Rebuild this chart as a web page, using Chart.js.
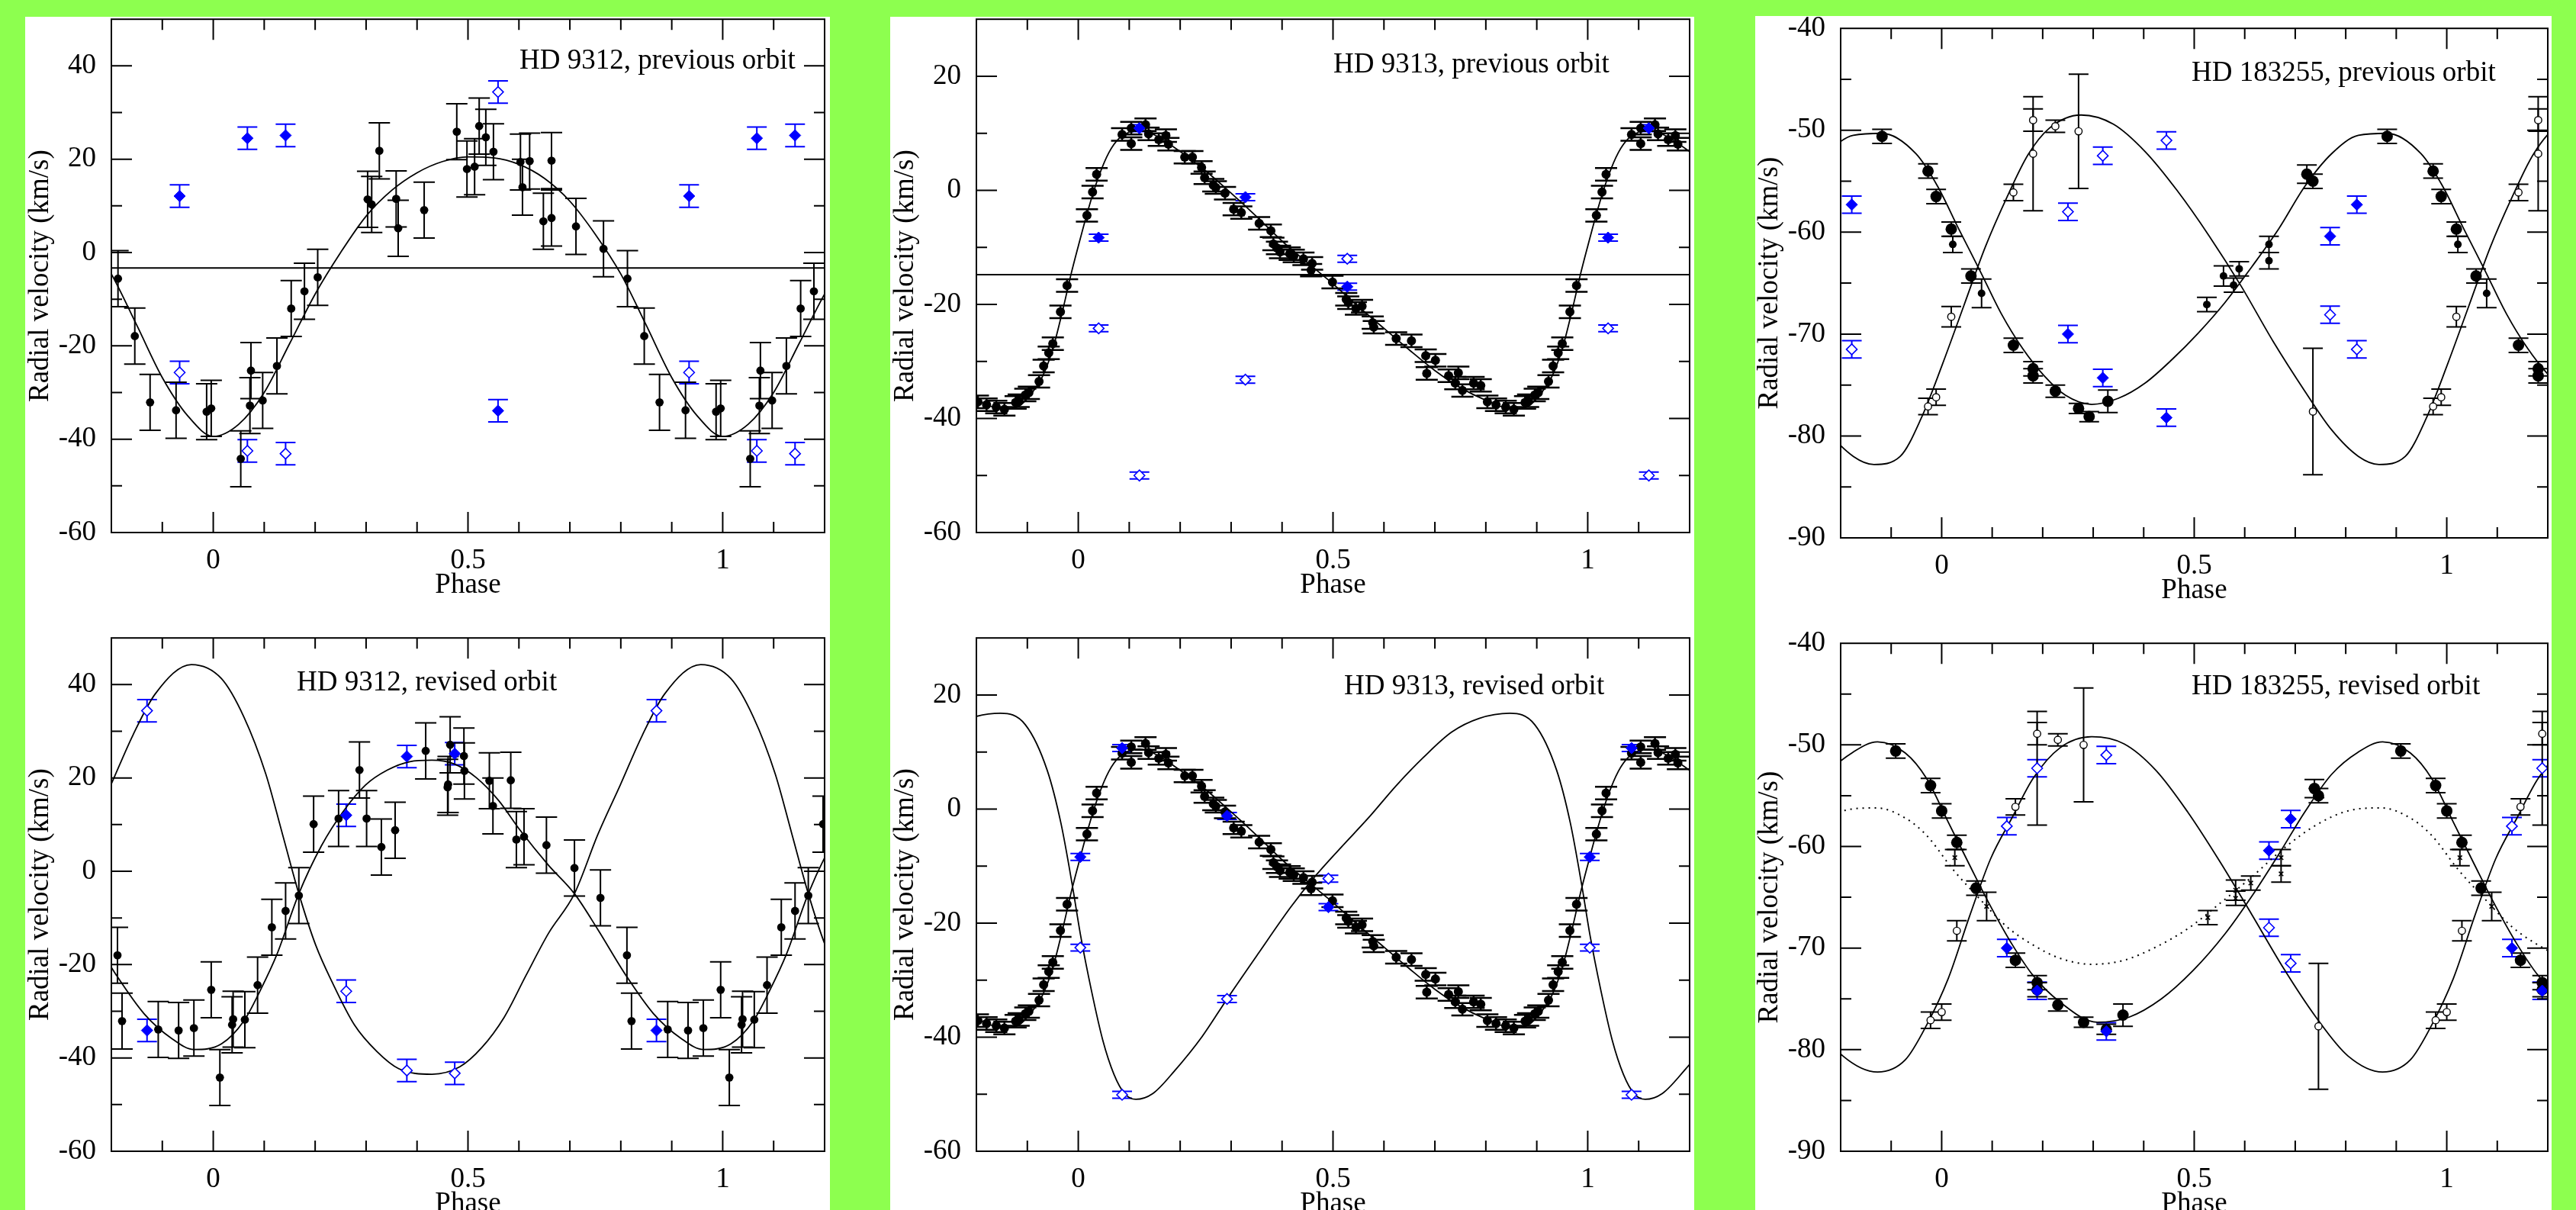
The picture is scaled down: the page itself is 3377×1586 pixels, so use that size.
<!DOCTYPE html>
<html>
<head>
<meta charset="utf-8">
<script src="https://cdn.jsdelivr.net/npm/chart.js@4.4.1/dist/chart.umd.min.js"></script>
<style>
  html, body { margin: 0; padding: 0; }
  body { width: 3377px; height: 1586px; background: #8dff4f; position: relative; overflow: hidden; }
  .sheet { position: absolute; background: #fff; }
  canvas { position: absolute; }
</style>
</head>
<body>
<div class="sheet" style="left:33px;top:22px;width:1055px;height:1564px"></div>
<div class="sheet" style="left:1167px;top:22px;width:1054px;height:1564px"></div>
<div class="sheet" style="left:2301px;top:21px;width:1044px;height:1565px"></div>
<script>
const FONT = '"Liberation Serif", "Times New Roman", serif';

// tick labels
const phaseLabels = [0, 0.5, 1];
const rvLabels9312 = [-60, -40, -20, 0, 20, 40];
const rvLabels9313 = [-60, -40, -20, 0, 20];
const rvLabels183255 = [-90, -80, -70, -60, -50, -40];

// ---------- HD 9312 : [phase, RV km/s] ----------
const hd9312PrevBlack = [[0.813,-5.6],[0.846,-17.9],[0.876,-32.1],[0.927,-33.8],[0.987,-34.1],[0.996,-33.4],
  [0.054,-44.2],[0.072,-32.8],[0.074,-25.3],[0.097,-31.7],[0.125,-24.3],[0.153,-12.0],[0.179,-8.3],[0.205,-5.3],
  [0.303,11.4],[0.311,10.3],[0.326,21.8],[0.359,11.5],[0.363,5.2],[0.414,9.1],[0.478,25.9],[0.498,17.9],
  [0.513,18.4],[0.522,27.1],[0.535,24.7],[0.550,21.6],[0.603,19.4],[0.607,14.0],[0.621,19.6],[0.648,6.7],
  [0.664,19.7],[0.664,7.4],[0.712,5.6],[0.766,0.8]];
const hd9312PrevBlueFilled = [[0.934,12.1],[0.067,24.5],[0.142,25.1],[0.559,-33.9]];
const hd9312PrevBlueOpen = [[0.934,-25.7],[0.067,-42.5],[0.142,-43.1],[0.559,34.4]];
const hd9312PrevCurve = [[0,-39.4],[0.05,-36.8],[0.1,-30],[0.15,-19.5],[0.2,-8.9],[0.25,0],[0.3,7.8],[0.35,13.3],
  [0.4,17.1],[0.45,19.5],[0.5,20.5],[0.55,20.3],[0.6,18.9],[0.65,15.9],[0.7,11.0],[0.75,3.9],[0.8,-4.6],
  [0.85,-15.6],[0.9,-26.8],[0.95,-35.0]];
const hd9312PrevGamma = -3.3;

const hd9312RevBlack = [[0.812,-18.0],[0.821,-32.1],[0.892,-33.9],[0.932,-34.1],[0.962,-33.6],[0.996,-25.4],
  [0.013,-44.2],[0.037,-32.9],[0.039,-31.7],[0.062,-31.8],[0.087,-24.4],[0.115,-12.0],[0.142,-8.5],[0.168,-5.2],
  [0.197,10.1],[0.246,11.3],[0.287,21.7],[0.301,11.3],[0.330,5.2],[0.357,8.8],[0.417,25.8],[0.460,18.0],
  [0.461,18.6],[0.465,27.1],[0.492,24.7],[0.493,21.5],[0.542,19.4],[0.549,14.0],[0.584,19.5],[0.595,6.8],
  [0.610,7.4],[0.654,5.6],[0.709,0.7],[0.760,-5.7]];
const hd9312RevBlueFilled = [[0.870,-34.1],[0.261,12.0],[0.380,24.6],[0.474,25.2]];
const hd9312RevBlueOpen = [[0.870,34.4],[0.261,-25.7],[0.380,-42.7],[0.474,-43.3]];
const hd9312RevCurveA = [[0.016,-37.0],[0.060,-32.1],[0.092,-25.6],[0.125,-17.8],[0.168,-4.8],[0.212,5.4],
  [0.255,12.8],[0.299,18.5],[0.342,21.7],[0.386,23.5],[0.429,23.8],[0.473,23.0],[0.516,20.1],[0.560,15.2],
  [0.603,8.7],[0.658,1.3],[0.709,-4.8],[0.755,-12.5],[0.810,-22.3],[0.864,-30.5],[0.918,-35.8],[0.962,-38.2]];
const hd9312RevCurveB = [[0.016,41.3],[0.060,33.1],[0.103,20.9],[0.136,7.9],[0.168,-4.8],[0.201,-15.8],
  [0.234,-23.9],[0.277,-32.9],[0.321,-38.6],[0.364,-42.3],[0.429,-43.5],[0.484,-41.9],[0.527,-37.8],
  [0.571,-31.3],[0.614,-22.3],[0.658,-13.3],[0.709,-4.8],[0.755,7.9],[0.799,18.5],[0.842,29.1],[0.886,38.0],
  [0.957,44.3]];

// ---------- HD 9313 ----------
const hd9313Black = [[0.017,-4.4],[0.028,-0.3],[0.036,2.8],[0.086,9.8],[0.104,8.2],[0.104,10.9],[0.132,11.5],
  [0.138,9.9],[0.158,8.9],[0.172,9.6],[0.177,8.1],[0.209,5.8],[0.224,5.8],[0.242,4.0],[0.248,2.2],[0.265,0.9],
  [0.270,0.5],[0.288,-0.5],[0.305,-3.3],[0.320,-3.9],[0.355,-5.8],[0.378,-7.1],[0.383,-9.4],[0.390,-10.1],
  [0.396,-10.8],[0.415,-11.1],[0.423,-11.5],[0.442,-12.0],[0.457,-14.0],[0.459,-12.8],[0.499,-16.1],
  [0.526,-19.1],[0.530,-19.7],[0.545,-20.7],[0.557,-20.3],[0.578,-23.2],[0.580,-24.0],[0.624,-26.0],
  [0.654,-26.4],[0.682,-29.0],[0.684,-32.1],[0.701,-29.8],[0.727,-32.5],[0.740,-33.8],[0.746,-32.0],
  [0.754,-35.1],[0.776,-33.8],[0.790,-34.2],[0.803,-37.1],[0.820,-37.6],[0.839,-38.0],[0.855,-38.4],
  [0.877,-37.2],[0.883,-36.9],[0.896,-35.9],[0.903,-35.5],[0.923,-33.5],[0.932,-30.8],[0.942,-28.5],
  [0.950,-26.9],[0.965,-21.3],[0.978,-16.7]];
const hd9313Curve = [[0.0,-9.8],[0.02,-3.2],[0.04,2.4],[0.06,6.6],[0.08,9.1],[0.1,10.2],[0.12,10.5],[0.15,9.7],
  [0.2,6.8],[0.25,3.4],[0.3,-0.5],[0.35,-4.6],[0.4,-8.9],[0.45,-12.7],[0.5,-16.4],[0.55,-20.4],[0.6,-24.2],
  [0.65,-28.0],[0.7,-31.6],[0.75,-34.6],[0.8,-36.8],[0.85,-38.3],[0.88,-38.0],[0.9,-36.5],[0.93,-32.6],
  [0.95,-27.8],[0.97,-20.8],[0.985,-15.0]];
const hd9313PrevBlueFilled = [[0.040,-8.3],[0.120,10.9],[0.328,-1.2],[0.528,-16.9]];
const hd9313PrevBlueOpen = [[0.040,-24.2],[0.120,-50.0],[0.328,-33.2],[0.528,-12.0]];
const hd9313PrevGamma = -14.8;
const hd9313RevBlueFilled = [[0.004,-8.4],[0.086,10.7],[0.292,-1.2],[0.491,-17.2]];
const hd9313RevBlueOpen = [[0.004,-24.3],[0.086,-50.1],[0.292,-33.3],[0.491,-12.2]];
const hd9313RevCurveB = [[0.004,-21.9],[0.026,-31.9],[0.048,-40.5],[0.070,-46.5],[0.091,-49.9],[0.113,-50.9],
  [0.146,-49.9],[0.189,-45.9],[0.243,-39.9],[0.292,-33.3],[0.352,-25.5],[0.417,-17.2],[0.461,-12.2],
  [0.515,-6.8],[0.570,-1.5],[0.624,4.1],[0.678,9.1],[0.733,13.5],[0.787,15.9],[0.847,16.8],[0.896,14.8],
  [0.939,6.8],[0.966,-2.5],[0.988,-13.2]];

// ---------- HD 183255 : [phase, RV, error] ----------
const hd183255PrevBig = [[0.882,-50.6,0.7],[0.973,-54.0,0.7],[0.989,-56.5,0.7],[0.019,-59.7,0.7],[0.058,-64.3,0.7],
  [0.142,-71.1,0.7],[0.181,-73.4,0.7],[0.181,-74.1,0.7],[0.225,-75.6,0.6],[0.271,-77.3,0.5],[0.292,-78.1,0.5],
  [0.329,-76.6,1.1],[0.723,-54.3,0.9],[0.735,-55.0,0.7]];
const hd183255PrevSmall = [[0.022,-61.2,0.8],[0.079,-66.0,1.4],[0.525,-67.1,0.7],[0.558,-64.3,1.0],
  [0.578,-65.2,0.7],[0.589,-63.6,0.7],[0.648,-61.2,0.8],[0.648,-62.8,0.8]];
const hd183255PrevOpen = [[0.973,-77.1,0.8],[0.989,-76.2,0.8],[0.019,-68.3,1.0],[0.142,-56.1,0.8],
  [0.181,-52.3,5.6],[0.181,-49.0,1.1],[0.225,-49.6,0.6],[0.271,-50.1,5.6],[0.735,-77.6,6.2]];
const hd183255PrevBlueFilled = [[0.822,-57.3],[0.250,-70.0],[0.319,-74.3],[0.445,-78.2],[0.769,-60.4]];
const hd183255PrevBlueOpen = [[0.822,-71.5],[0.250,-58.0],[0.319,-52.5],[0.445,-51.0],[0.769,-68.1]];
const hd183255PrevCurveA = [[0.034,-59.7],[0.076,-63.8],[0.118,-68.0],[0.160,-71.4],[0.203,-74.1],[0.245,-76.0],
  [0.297,-76.9],[0.350,-76.3],[0.403,-74.8],[0.456,-72.5],[0.508,-69.9],[0.561,-66.9],[0.614,-63.4],
  [0.667,-59.7],[0.719,-55.5],[0.772,-52.3],[0.825,-50.5],[0.882,-50.3],[0.949,-52.3],[0.992,-55.5]];
const hd183255PrevCurveB = [[0.002,-72.9],[0.044,-67.2],[0.086,-61.5],[0.129,-56.6],[0.171,-52.4],[0.213,-49.8],
  [0.276,-48.5],[0.340,-49.4],[0.403,-52.1],[0.466,-55.9],[0.530,-60.4],[0.593,-65.3],[0.656,-70.7],
  [0.719,-75.6],[0.772,-79.4],[0.825,-82.0],[0.866,-82.8],[0.918,-82.0],[0.960,-78.2]];

const hd183255RevBig = [[0.909,-50.6,0.7],[0.978,-54.0,0.7],[0.0,-56.5,0.7],[0.030,-59.6,0.7],[0.068,-64.1,0.7],
  [0.146,-71.2,0.7],[0.189,-73.4,0.7],[0.189,-74.1,0.7],[0.230,-75.6,0.6],[0.281,-77.3,0.5],[0.326,-78.0,0.5],
  [0.359,-76.6,1.1],[0.738,-54.3,0.9],[0.746,-55.0,0.7]];
const hd183255RevSmall = [[0.026,-61.1,0.8],[0.089,-65.9,1.4],[0.527,-67.0,0.7],[0.582,-64.3,1.0],
  [0.582,-65.1,0.7],[0.612,-63.6,0.7],[0.672,-61.1,0.8],[0.672,-62.7,0.8]];
const hd183255RevOpen = [[0.978,-77.1,0.8],[0.0,-76.3,0.8],[0.030,-68.3,1.0],[0.146,-56.1,0.8],
  [0.189,-52.3,5.6],[0.189,-48.9,1.1],[0.230,-49.5,0.6],[0.281,-50.0,5.6],[0.746,-77.7,6.2]];
const hd183255RevBlueFilled = [[0.129,-70.0],[0.189,-74.2],[0.326,-78.2],[0.648,-60.4],[0.691,-57.3]];
const hd183255RevBlueOpen = [[0.129,-58.0],[0.189,-52.3],[0.326,-51.0],[0.648,-68.0],[0.691,-71.5]];
const hd183255RevCurveA = [[0.013,-57.6],[0.055,-61.8],[0.097,-65.9],[0.139,-69.6],[0.181,-72.7],[0.234,-75.3],
  [0.308,-77.3],[0.371,-76.8],[0.435,-75.0],[0.498,-72.2],[0.561,-68.6],[0.614,-64.9],[0.667,-60.8],
  [0.719,-56.6],[0.772,-52.9],[0.825,-50.7],[0.873,-49.7],[0.928,-50.8],[0.970,-53.3]];
const hd183255RevCurveB = [[0.013,-73.0],[0.055,-66.9],[0.097,-61.2],[0.139,-57.2],[0.181,-53.3],[0.234,-50.3],
  [0.297,-49.2],[0.361,-49.9],[0.424,-52.5],[0.487,-56.6],[0.551,-61.5],[0.614,-66.7],[0.677,-72.0],
  [0.741,-76.8],[0.804,-80.6],[0.873,-82.2],[0.928,-81.0],[0.970,-77.6]];
const hd183255RevCurveC = [[0.023,-62.3],[0.076,-65.2],[0.129,-67.9],[0.181,-69.7],[0.234,-71.0],[0.297,-71.6],
  [0.361,-71.2],[0.424,-69.9],[0.487,-68.1],[0.551,-65.6],[0.614,-63.0],[0.677,-60.2],[0.741,-57.9],
  [0.804,-56.5],[0.870,-56.2],[0.928,-57.2],[0.970,-58.9]];

// repeat each phase one cycle either side, keep what falls in [lo, hi]
function wrap(rows, err, lo, hi) {
  const out = [];
  rows.forEach(r => {
    [-1, 0, 1].forEach(k => {
      const x = r[0] + k;
      if (x >= lo && x <= hi) out.push({ x: x, y: r[1], e: r.length > 2 ? r[2] : err });
    });
  });
  return out.sort((a, b) => a.x - b.x);
}

function points(rows, err, look) {
  return Object.assign({ data: wrap(rows, err, -0.2, 1.2), showLine: false, errColor: '#000', errWidth: 2 }, look);
}
function curve(rows, dash) {
  return { data: wrap(rows, 0, -0.6, 1.6), showLine: true, pointRadius: 0, borderColor: '#000',
    borderWidth: dash ? 2 : 1.8, borderDash: dash ? [2, 6] : [], cubicInterpolationMode: 'monotone' };
}
function flat(v) {
  return { data: [{ x: -0.2, y: v }, { x: 1.2, y: v }], showLine: true, pointRadius: 0, borderColor: '#000', borderWidth: 2 };
}

const blackDot = r => ({ pointStyle: 'circle', pointRadius: r, backgroundColor: '#000', borderColor: '#000', borderWidth: 0 });
const blueFill = { pointStyle: 'rectRot', pointRadius: 7.5, backgroundColor: '#0000ff', borderColor: '#0000ff', borderWidth: 1, errColor: '#0000ff' };
const blueOpen = { pointStyle: 'rectRot', pointRadius: 7, backgroundColor: '#fff', borderColor: '#0000ff', borderWidth: 1.6, errColor: '#0000ff' };
const blackOpen = { pointStyle: 'circle', pointRadius: 4.7, backgroundColor: '#fff', borderColor: '#000', borderWidth: 1.4 };
const blackCross = { pointStyle: 'crossRot', pointRadius: 4, borderColor: '#000', borderWidth: 1.6 };

const framePlugin = {
  id: 'frame',
  beforeDatasetsDraw(chart) {
    const { ctx, chartArea: a, scales: { x, y } } = chart;
    ctx.save();
    ctx.beginPath();
    ctx.rect(a.left, a.top, a.right - a.left, a.bottom - a.top);
    ctx.clip();
    chart.data.datasets.forEach(ds => {
      if (!ds.errCap) return;
      ctx.strokeStyle = ds.errColor;
      ctx.lineWidth = ds.errWidth;
      ds.data.forEach(p => {
        if (!p.e) return;
        const px = x.getPixelForValue(p.x);
        const y1 = y.getPixelForValue(p.y + p.e), y2 = y.getPixelForValue(p.y - p.e);
        ctx.beginPath();
        ctx.moveTo(px, y1); ctx.lineTo(px, y2);
        ctx.moveTo(px - ds.errCap, y1); ctx.lineTo(px + ds.errCap, y1);
        ctx.moveTo(px - ds.errCap, y2); ctx.lineTo(px + ds.errCap, y2);
        ctx.stroke();
      });
    });
    ctx.restore();
  },
  afterDraw(chart, args, opts) {
    const { ctx, chartArea: a, scales: { x, y } } = chart;
    ctx.save();
    ctx.strokeStyle = '#000';
    ctx.lineWidth = 2;
    ctx.strokeRect(a.left, a.top, a.right - a.left, a.bottom - a.top);
    [[x, true], [y, false]].forEach(([s, horiz]) => {
      s.ticks.forEach(t => {
        if (t.value <= s.min + 1e-6 || t.value >= s.max - 1e-6) return;
        const len = t.label !== '' ? 27 : 14;
        const p = s.getPixelForValue(t.value);
        ctx.beginPath();
        if (horiz) {
          ctx.moveTo(p, a.bottom); ctx.lineTo(p, a.bottom - len);
          ctx.moveTo(p, a.top); ctx.lineTo(p, a.top + len);
        } else {
          ctx.moveTo(a.left, p); ctx.lineTo(a.left + len, p);
          ctx.moveTo(a.right, p); ctx.lineTo(a.right - len, p);
        }
        ctx.stroke();
      });
    });
    ctx.fillStyle = '#000';
    ctx.font = '37px ' + FONT;
    ctx.textBaseline = 'alphabetic';
    ctx.textAlign = 'left';
    ctx.fillText(opts.title, a.left + opts.dx, a.top + opts.dy);
    ctx.textAlign = 'center';
    ctx.fillText('Phase', (a.left + a.right) / 2, a.bottom + 79);
    ctx.translate(a.left - 83, (a.top + a.bottom) / 2);
    ctx.rotate(-Math.PI / 2);
    ctx.fillText('Radial velocity (km/s)', 0, 0);
    ctx.restore();
  }
};

function makePanel(box, yMin, yMax, yStep, yLabels, title, dx, dy, datasets) {
  const [left, top, w, h] = box;
  const canvas = document.createElement('canvas');
  canvas.width = w + 150;
  canvas.height = h + 125;
  document.body.appendChild(canvas);
  const chart = new Chart(canvas, {
    type: 'scatter',
    data: { datasets: datasets },
    options: {
      responsive: false,
      animation: false,
      devicePixelRatio: 1,
      events: [],
      layout: { padding: { left: 0, right: 30, top: 30, bottom: 0 } },
      plugins: { legend: { display: false }, tooltip: { enabled: false }, frame: { title: title, dx: dx, dy: dy } },
      scales: {
        x: {
          type: 'linear', min: -0.2, max: 1.2,
          grid: { display: false }, border: { display: false },
          ticks: {
            stepSize: 0.1, autoSkip: false, maxRotation: 0, padding: 7, color: '#000',
            font: { family: FONT, size: 37 },
            callback: v => { const t = Math.round(v * 10) / 10; return phaseLabels.includes(t) ? String(t) : ''; }
          },
          afterFit: s => { s.height = 95; }
        },
        y: {
          type: 'linear', min: yMin, max: yMax,
          grid: { display: false }, border: { display: false },
          ticks: {
            stepSize: yStep, autoSkip: false, padding: 12, color: '#000',
            font: { family: FONT, size: 37 },
            callback: v => { const t = Math.round(v); return yLabels.includes(t) ? String(t) : ''; }
          },
          afterFit: s => { s.width = 120; }
        }
      }
    },
    plugins: [framePlugin]
  });
  const a = chart.chartArea;
  canvas.style.left = (left - a.left) + 'px';
  canvas.style.top = (top - a.top) + 'px';
}

// HD 9312 previous
makePanel([146, 25, 935, 677], -60, 50, 10, rvLabels9312, 'HD 9312, previous orbit', 535, 65, [
  points(hd9312PrevBlueFilled, 2.4, Object.assign({ errCap: 13 }, blueFill)),
  points(hd9312PrevBlueOpen, 2.4, Object.assign({ errCap: 13 }, blueOpen)),
  points(hd9312PrevBlack, 6, Object.assign({ errCap: 14 }, blackDot(5.4))),
  curve(hd9312PrevCurve),
  flat(hd9312PrevGamma)
]);
// HD 9313 previous
makePanel([1280, 25, 935, 677], -60, 30, 10, rvLabels9313, 'HD 9313, previous orbit', 468, 70, [
  points(hd9313PrevBlueFilled, 0.6, Object.assign({ errCap: 13 }, blueFill)),
  points(hd9313PrevBlueOpen, 0.6, Object.assign({ errCap: 13 }, blueOpen)),
  points(hd9313Black, 1.1, Object.assign({ errCap: 14.5, errWidth: 2.5 }, blackDot(6))),
  curve(hd9313Curve),
  flat(hd9313PrevGamma)
]);
// HD 183255 previous
makePanel([2413, 37, 927, 672], -90, -40, 5, rvLabels183255, 'HD 183255, previous orbit', 460, 69, [
  points(hd183255PrevBlueFilled, 0.85, Object.assign({ errCap: 13 }, blueFill)),
  points(hd183255PrevBlueOpen, 0.85, Object.assign({ errCap: 13 }, blueOpen)),
  points(hd183255PrevBig, 0.7, Object.assign({ errCap: 13 }, blackDot(7.5))),
  points(hd183255PrevSmall, 0.8, Object.assign({ errCap: 13 }, blackDot(5))),
  points(hd183255PrevOpen, 0.8, Object.assign({ errCap: 13 }, blackOpen)),
  curve(hd183255PrevCurveA),
  curve(hd183255PrevCurveB)
]);
// HD 9312 revised
makePanel([146, 836, 935, 677], -60, 50, 10, rvLabels9312, 'HD 9312, revised orbit', 243, 69, [
  points(hd9312RevBlueFilled, 2.4, Object.assign({ errCap: 13 }, blueFill)),
  points(hd9312RevBlueOpen, 2.4, Object.assign({ errCap: 13 }, blueOpen)),
  points(hd9312RevBlack, 6, Object.assign({ errCap: 14 }, blackDot(5.4))),
  curve(hd9312RevCurveA),
  curve(hd9312RevCurveB)
]);
// HD 9313 revised
makePanel([1280, 836, 935, 677], -60, 30, 10, rvLabels9313, 'HD 9313, revised orbit', 482, 74, [
  points(hd9313RevBlueFilled, 0.6, Object.assign({ errCap: 13 }, blueFill)),
  points(hd9313RevBlueOpen, 0.6, Object.assign({ errCap: 13 }, blueOpen)),
  points(hd9313Black, 1.1, Object.assign({ errCap: 14.5, errWidth: 2.5 }, blackDot(6))),
  curve(hd9313Curve),
  curve(hd9313RevCurveB)
]);
// HD 183255 revised
makePanel([2413, 843, 927, 670], -90, -40, 5, rvLabels183255, 'HD 183255, revised orbit', 460, 67, [
  points(hd183255RevBlueFilled, 0.85, Object.assign({ errCap: 13 }, blueFill)),
  points(hd183255RevBlueOpen, 0.85, Object.assign({ errCap: 13 }, blueOpen)),
  points(hd183255RevBig, 0.7, Object.assign({ errCap: 13 }, blackDot(7.5))),
  points(hd183255RevSmall, 0.8, Object.assign({ errCap: 13 }, blackCross)),
  points(hd183255RevOpen, 0.8, Object.assign({ errCap: 13 }, blackOpen)),
  curve(hd183255RevCurveA),
  curve(hd183255RevCurveB),
  curve(hd183255RevCurveC, true)
]);
</script>
</body>
</html>
